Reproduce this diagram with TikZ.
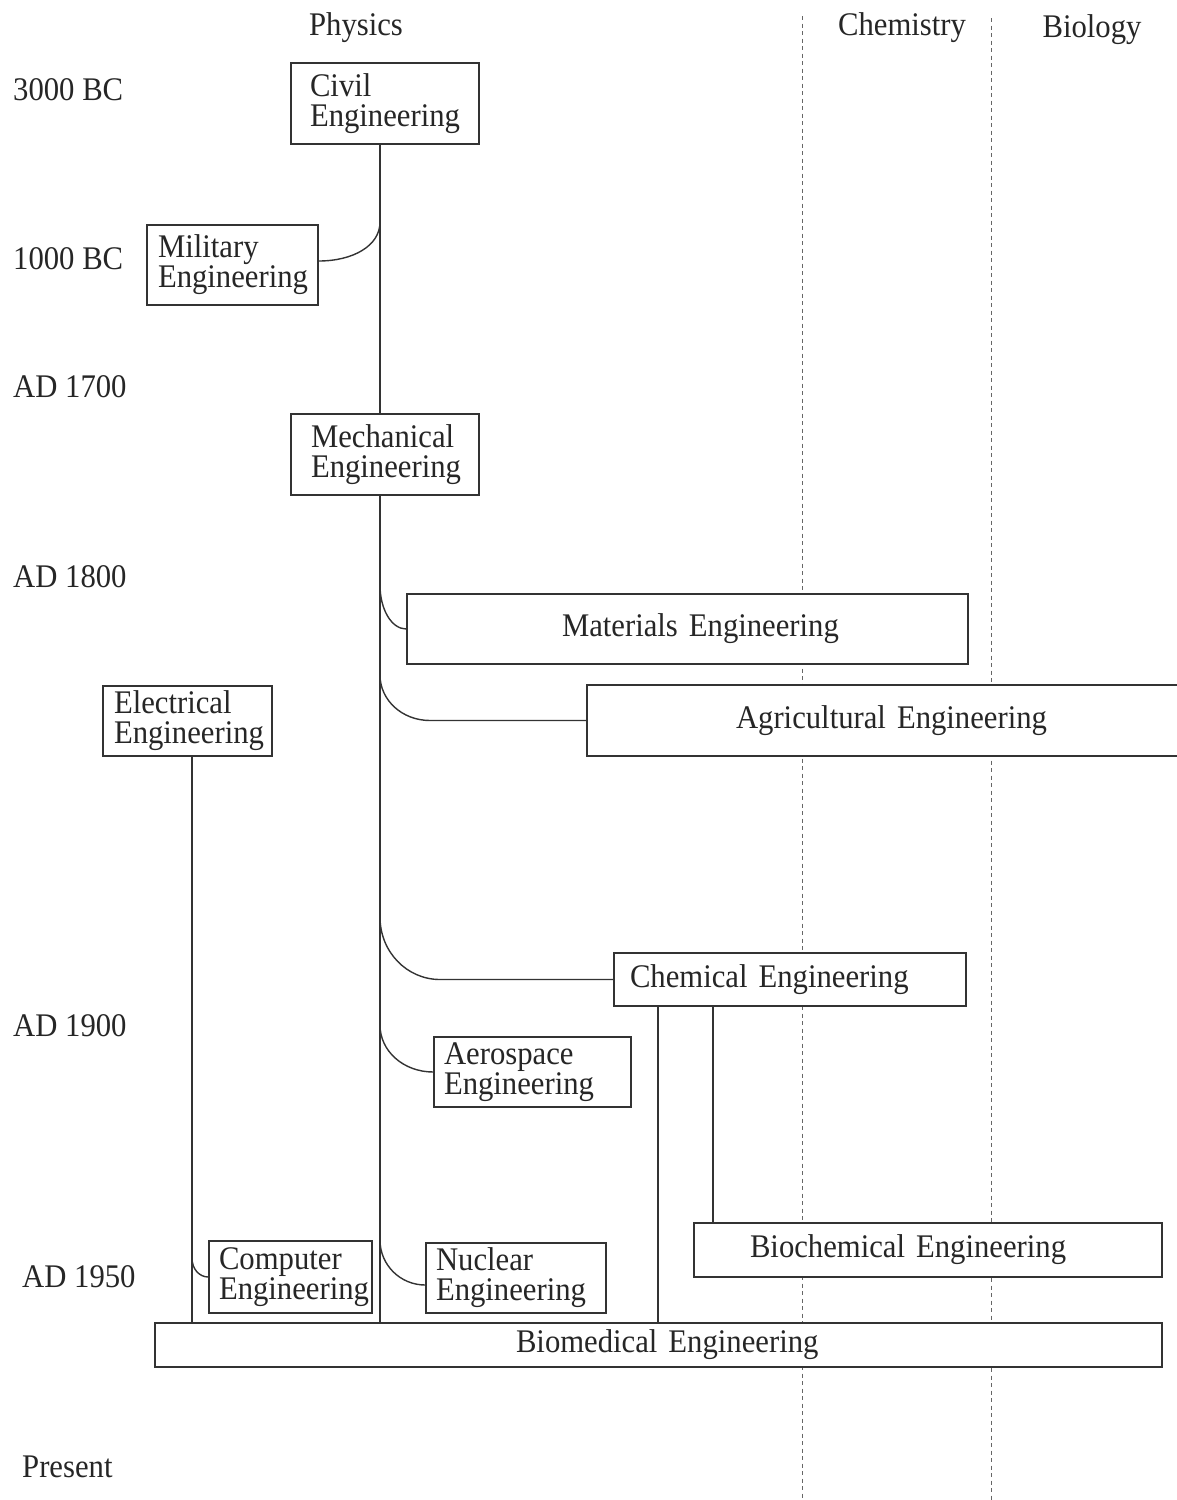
\documentclass[tikz,border=0pt]{standalone}
\usepackage{fontspec}
\setmainfont{Liberation Serif}[FakeStretch=0.93]
\usetikzlibrary{calc}
\begin{document}
\begin{tikzpicture}[x=1pt,y=-1pt,
  every node/.style={font=\fontsize{33}{30}\selectfont, text=black!85},
  ebox/.style={draw=black!80, line width=1.4pt, fill=white, inner sep=0pt, align=left},
  link/.style={draw=black!80, line width=1.4pt},
  field/.style={draw=black!60, line width=1pt, dash pattern=on 4pt off 3.5pt},
  period/.style={anchor=base west, inner sep=0pt},
  subject/.style={anchor=base, inner sep=0pt}]
\useasboundingbox (0,0) rectangle (1177,1500);
\clip (0,0) rectangle (1177,1500);

% boundaries between physics, chemistry and biology
\draw[field] (802,16) -- (802,1500);
\draw[field] (991,18) -- (991,1500);

% column headings
\node[subject] (phys) at (356,35) {Physics};
\node[subject] (chemh) at (902,35) {Chemistry};
\node[subject] (biol) at (1092,37) {Biology};

% time axis
\node[period] (t3000) at (13,100) {3000 BC};
\node[period] (t1000) at (13,269) {1000 BC};
\node[period] (t1700) at (13,397) {AD 1700};
\node[period] (t1800) at (13,587) {AD 1800};
\node[period] (t1900) at (13,1036) {AD 1900};
\node[period] (t1950) at (22,1287) {AD 1950};
\node[period] (tnow) at (22,1477) {Present};

% disciplines
\node[ebox, minimum width=188pt, minimum height=81pt, text width=188pt] (civil) at (385,103.5)
  {\hspace*{19pt}Civil\\\hspace*{19pt}Engineering};
\node[ebox, minimum width=171pt, minimum height=80pt, text width=171pt] (mil) at (232.5,265)
  {\hspace*{11pt}Military\\\hspace*{11pt}Engineering};
\node[ebox, minimum width=188pt, minimum height=81pt, text width=188pt] (mech) at (385,454.5)
  {\hspace*{20pt}Mechanical\\\hspace*{20pt}Engineering};
\node[ebox, minimum width=561pt, minimum height=70pt, text width=561pt] (mat) at (687.5,629)
  {\hspace*{155pt}Materials Engineering};
\node[ebox, minimum width=603pt, minimum height=71pt, text width=603pt] (agr) at (888.5,720.5)
  {\hspace*{149pt}Agricultural Engineering};
\node[ebox, minimum width=169pt, minimum height=70pt, text width=169pt] (elec) at (187.5,721)
  {\hspace*{11pt}Electrical\\\hspace*{11pt}Engineering};
\node[ebox, minimum width=352pt, minimum height=53pt, text width=352pt] (chem) at (790,979.5)
  {\hspace*{16pt}Chemical Engineering};
\node[ebox, minimum width=197pt, minimum height=70pt, text width=197pt] (aero) at (532.5,1072)
  {\hspace*{10pt}Aerospace\\\hspace*{10pt}Engineering};
\node[ebox, minimum width=468pt, minimum height=54pt, text width=468pt] (biochem) at (928,1250)
  {\hspace*{56pt}Biochemical Engineering};
\node[ebox, minimum width=163pt, minimum height=72pt, text width=163pt] (comp) at (290.5,1277)
  {\hspace*{10pt}Computer\\\hspace*{10pt}Engineering};
\node[ebox, minimum width=180pt, minimum height=70pt, text width=180pt] (nuc) at (516,1278)
  {\hspace*{10pt}Nuclear\\\hspace*{10pt}Engineering};
\node[ebox, minimum width=1007pt, minimum height=44pt, text width=1007pt] (bio) at (658.5,1345)
  {\hspace*{361pt}Biomedical Engineering};

% lines of descent
\coordinate (tr) at (380,0);
\coordinate (ex) at (192,0);
\coordinate (cx1) at (658,0);
\coordinate (cx2) at (713,0);

\draw[link] (civil.south -| tr) -- (mech.north -| tr);
\draw[link] (mech.south -| tr) -- (bio.north -| tr);
\draw[link] (elec.south -| ex) -- (bio.north -| ex);
\draw[link] (chem.south -| cx1) -- (bio.north -| cx1);
\draw[link] (chem.south -| cx2) -- (biochem.north -| cx2);

\coordinate (jMil) at (380,222);
\draw[link] (jMil) .. controls +(0,24) and +(34,0) .. ([yshift=4pt]mil.east);

\coordinate (jMat) at (380,585);
\draw[link] (jMat) .. controls +(0,24) and +(-15,0) .. (mat.west);

\coordinate (jAgr) at (380,675);
\coordinate (kAgr) at ($(agr.west -| tr)+(50,0)$);
\draw[link] (jAgr) .. controls +(0,25) and +(-28,0) .. (kAgr) -- (agr.west);

\coordinate (jChem) at (380,917);
\coordinate (kChem) at ($(chem.west -| tr)+(60,0)$);
\draw[link] (jChem) .. controls +(0,35) and +(-33,0) .. (kChem) -- (chem.west);

\coordinate (jAero) at (380,1025);
\draw[link] (jAero) .. controls +(0,26) and +(-30,0) .. (aero.west);

\coordinate (jNuc) at (380,1240);
\draw[link] (jNuc) .. controls +(0,25) and +(-25,0) .. ([yshift=-7pt]nuc.west);

\coordinate (jComp) at (192,1258);
\draw[link] (jComp) .. controls +(0,11) and +(-9,0) .. (comp.west);
\end{tikzpicture}
\end{document}
